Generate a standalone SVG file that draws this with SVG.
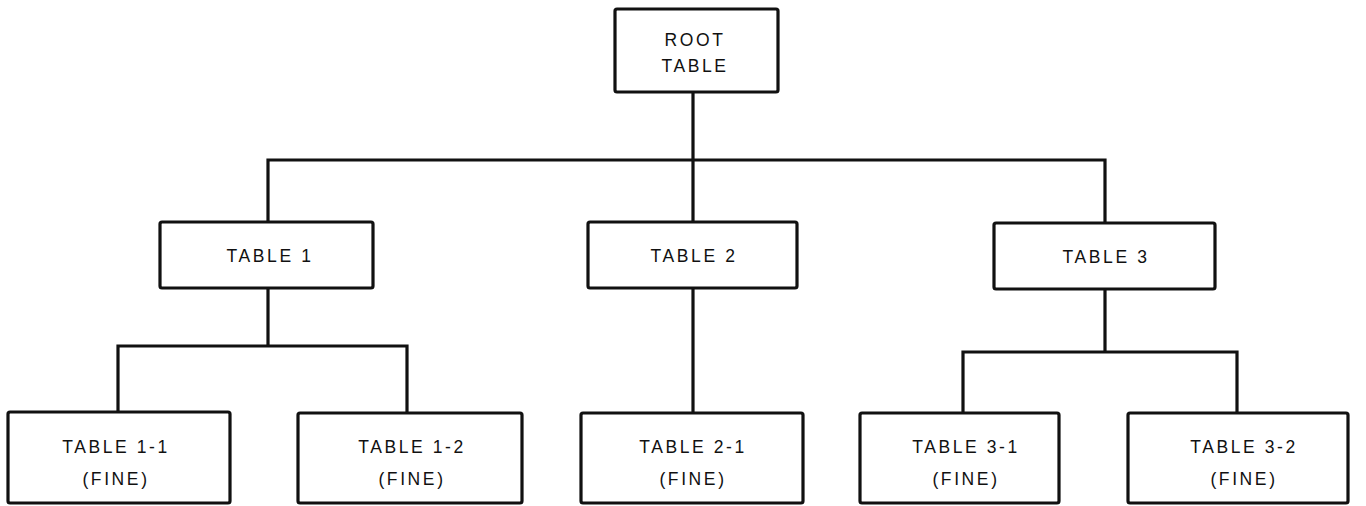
<svg xmlns="http://www.w3.org/2000/svg" width="1366" height="506" viewBox="0 0 1366 506">
<style>
.box{fill:#fff;stroke:#111;stroke-width:3.2;}
.ln{fill:none;stroke:#111;stroke-width:3.2;stroke-linecap:square;}
text{font-family:"Liberation Sans",Arial,sans-serif;font-size:17.5px;letter-spacing:2.6px;fill:#111;text-anchor:middle;}
</style>
<rect width="1366" height="506" fill="#fff"/>
<g id="connectors">
<path class="ln" d="M693 92V160M268 160H1105M268 160V222M693 160V222M1105 160V223"/>
<path class="ln" d="M268 288V346M118 346H407M118 346V412M407 346V413"/>
<path class="ln" d="M693 288V413"/>
<path class="ln" d="M1105 289V352M963 352H1237M963 352V413M1237 352V413"/>
</g>
<g id="root"><rect class="box" x="615" y="9" width="163" height="83" rx="2"/><text x="695" y="46">ROOT</text><text x="695" y="72">TABLE</text></g>
<g id="t1"><rect class="box" x="160" y="222" width="213" height="66" rx="2"/><text x="270" y="262">TABLE 1</text></g>
<g id="t2"><rect class="box" x="588" y="222" width="209" height="66" rx="2"/><text x="694" y="262">TABLE 2</text></g>
<g id="t3"><rect class="box" x="994" y="223" width="221" height="66" rx="2"/><text x="1106" y="263">TABLE 3</text></g>
<g id="t11"><rect class="box" x="8" y="412" width="222" height="91" rx="2"/><text x="116" y="453">TABLE 1-1</text><text x="116" y="485">(FINE)</text></g>
<g id="t12"><rect class="box" x="298" y="413" width="224" height="90" rx="2"/><text x="412" y="453">TABLE 1-2</text><text x="412" y="485">(FINE)</text></g>
<g id="t21"><rect class="box" x="581" y="413" width="222" height="90" rx="2"/><text x="693" y="453">TABLE 2-1</text><text x="693" y="485">(FINE)</text></g>
<g id="t31"><rect class="box" x="860" y="413" width="199" height="90" rx="2"/><text x="966" y="453">TABLE 3-1</text><text x="966" y="485">(FINE)</text></g>
<g id="t32"><rect class="box" x="1128" y="413" width="220" height="90" rx="2"/><text x="1244" y="453">TABLE 3-2</text><text x="1244" y="485">(FINE)</text></g>
</svg>
